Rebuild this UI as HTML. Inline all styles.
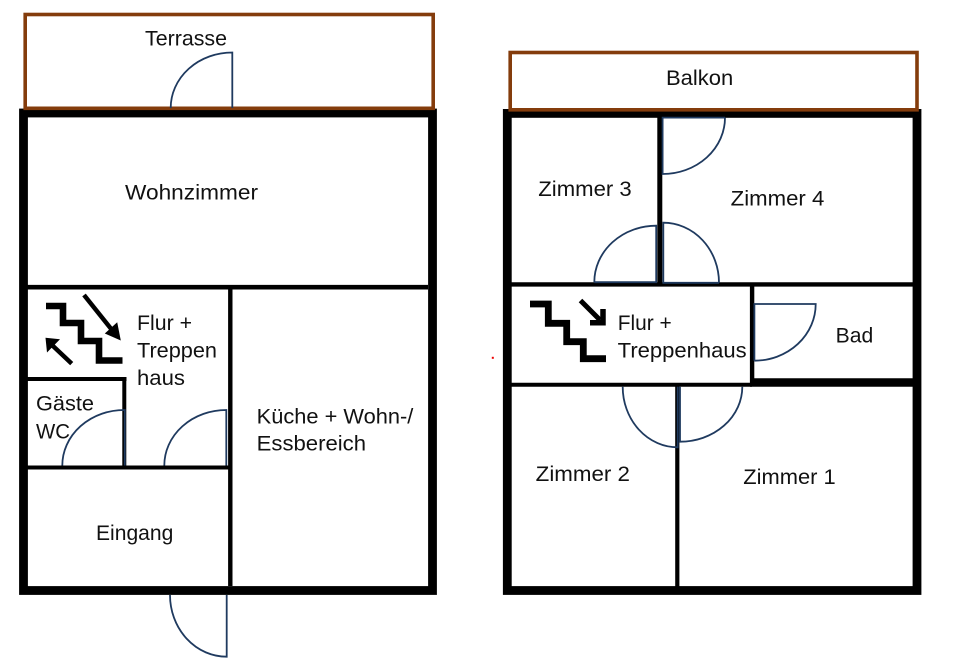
<!DOCTYPE html>
<html>
<head>
<meta charset="utf-8">
<style>
  html,body{margin:0;padding:0;background:#fff;}
  svg{display:block;}
  text{font-family:"Liberation Sans",Arial,sans-serif;font-size:21px;fill:#111;}
</style>
</head>
<body>
<svg width="960" height="667" viewBox="0 0 960 667" xmlns="http://www.w3.org/2000/svg">
  <rect x="0" y="0" width="960" height="667" fill="#fff"/>

  <!-- ===== LEFT PLAN ===== -->
  <!-- outer walls -->
  <rect x="23.5" y="113" width="409" height="477.5" fill="none" stroke="#000" stroke-width="8.8"/>
  <!-- Terrasse -->
  <rect x="25.2" y="14.5" width="408" height="93.8" fill="none" stroke="#843c0c" stroke-width="3.6"/>

  <!-- inner walls -->
  <line x1="27" y1="287.2" x2="428" y2="287.2" stroke="#000" stroke-width="4.6"/>
  <line x1="230.3" y1="287" x2="230.3" y2="586" stroke="#000" stroke-width="4.4"/>
  <line x1="27" y1="379" x2="126.5" y2="379" stroke="#000" stroke-width="4"/>
  <line x1="124.3" y1="377" x2="124.3" y2="467" stroke="#000" stroke-width="4"/>
  <line x1="27" y1="467.5" x2="232" y2="467.5" stroke="#000" stroke-width="4"/>

  <!-- doors left -->
  <g fill="none" stroke="#1f3a5f" stroke-width="1.8">
    <path d="M232.3,108 L232.3,52.5 A61.6,55.5 0 0 0 170.7,108"/>
    <path d="M124.8,465.5 L124.8,410 A62,55.5 0 0 0 62.3,465.5"/>
    <path d="M226.3,465.5 L226.3,410 A62,55.5 0 0 0 164.3,465.5"/>
    <path d="M226.7,595 L226.7,656.7 A56.7,61.7 0 0 1 170,595"/>
  </g>

  <!-- stairs left -->
  <polyline points="46,306 63,306 63,323 81,323 81,341 99,341 99,360.5 122.5,360.5"
            fill="none" stroke="#000" stroke-width="6.6" stroke-linejoin="miter"/>
  <line x1="84" y1="295" x2="112" y2="330" stroke="#000" stroke-width="4.5"/>
  <polygon points="120.8,340.5 104.8,333.5 117.2,322.2" fill="#000"/>
  <line x1="53" y1="346" x2="71.7" y2="363.6" stroke="#000" stroke-width="4.5"/>
  <polygon points="45.5,337.8 60,339.3 47,352.5" fill="#000"/>

  <!-- left labels -->
  <text x="145" y="45.5" textLength="82" lengthAdjust="spacingAndGlyphs">Terrasse</text>
  <text x="125" y="199.5" textLength="133" lengthAdjust="spacingAndGlyphs">Wohnzimmer</text>
  <text x="137" y="330" textLength="55" lengthAdjust="spacingAndGlyphs">Flur +</text>
  <text x="137" y="357.3" textLength="80" lengthAdjust="spacingAndGlyphs">Treppen</text>
  <text x="137" y="385" textLength="48" lengthAdjust="spacingAndGlyphs">haus</text>
  <text x="36" y="410.7" textLength="58" lengthAdjust="spacingAndGlyphs">Gäste</text>
  <text x="36" y="438.3" textLength="34" lengthAdjust="spacingAndGlyphs">WC</text>
  <text x="256.7" y="423.3" textLength="156.6" lengthAdjust="spacingAndGlyphs">Küche + Wohn-/</text>
  <text x="256.7" y="450.7" textLength="109.3" lengthAdjust="spacingAndGlyphs">Essbereich</text>
  <text x="96" y="540" textLength="77.3" lengthAdjust="spacingAndGlyphs">Eingang</text>

  <!-- ===== RIGHT PLAN ===== -->
  <rect x="507.3" y="113.4" width="409.7" height="477.1" fill="none" stroke="#000" stroke-width="8.8"/>
  <!-- Balkon -->
  <rect x="510.2" y="52.5" width="406.8" height="57.3" fill="none" stroke="#843c0c" stroke-width="3.6"/>

  <!-- inner walls -->
  <line x1="659.8" y1="116" x2="659.8" y2="284" stroke="#000" stroke-width="5"/>
  <line x1="511" y1="284.4" x2="913" y2="284.4" stroke="#000" stroke-width="4.4"/>
  <line x1="752.1" y1="284" x2="752.1" y2="386" stroke="#000" stroke-width="4.4"/>
  <line x1="511" y1="384.7" x2="752" y2="384.7" stroke="#000" stroke-width="4"/>
  <line x1="750" y1="382.5" x2="913" y2="382.5" stroke="#000" stroke-width="8.4"/>
  <line x1="677.3" y1="384" x2="677.3" y2="587" stroke="#000" stroke-width="4.2"/>

  <!-- doors right -->
  <g fill="none" stroke="#1f3a5f" stroke-width="1.8">
    <path d="M725,117.6 L662.6,117.6 L662.6,174 A62.4,56.4 0 0 0 725,117.6"/>
    <path d="M594.3,282.2 L656.2,282.2 L656.2,225.7 A61.9,56.5 0 0 0 594.3,282.2"/>
    <path d="M719,282.8 L663.3,282.8 L663.3,222.7 A55.7,60.1 0 0 1 719,282.8"/>
    <path d="M754.4,360.7 L754.4,304 L815.7,304 A61.3,56.7 0 0 1 754.4,360.7"/>
    <path d="M622.7,386.7 A55,60.6 0 0 0 677.7,447.3 L677.7,386.7"/>
    <path d="M742.3,386.7 A62.3,55 0 0 1 680,441.7 L680,386.7"/>
  </g>

  <!-- stairs right -->
  <polyline points="530,304 548.3,304 548.3,323.3 566.7,323.3 566.7,341.7 583.3,341.7 583.3,358.7 606,358.7"
            fill="none" stroke="#000" stroke-width="6.8" stroke-linejoin="miter"/>
  <line x1="580.5" y1="300.5" x2="600" y2="320" stroke="#000" stroke-width="5"/>
  <polyline points="603,309 603,322.8 590,322.8" fill="none" stroke="#000" stroke-width="5.5" stroke-linejoin="miter"/>

  <!-- right labels -->
  <text x="666" y="85" textLength="67.3" lengthAdjust="spacingAndGlyphs">Balkon</text>
  <text x="538.3" y="196" textLength="93.4" lengthAdjust="spacingAndGlyphs">Zimmer 3</text>
  <text x="730.7" y="205.7" textLength="93.6" lengthAdjust="spacingAndGlyphs">Zimmer 4</text>
  <text x="617.7" y="330" textLength="54" lengthAdjust="spacingAndGlyphs">Flur +</text>
  <text x="617.7" y="357.3" textLength="129" lengthAdjust="spacingAndGlyphs">Treppenhaus</text>
  <text x="835.7" y="342.7" textLength="37.6" lengthAdjust="spacingAndGlyphs">Bad</text>
  <text x="535.7" y="481" textLength="94.3" lengthAdjust="spacingAndGlyphs">Zimmer 2</text>
  <text x="743.3" y="484" textLength="92.4" lengthAdjust="spacingAndGlyphs">Zimmer 1</text>

  <!-- stray red dot -->
  <rect x="491.8" y="356.8" width="2" height="2" fill="#e00"/>
</svg>
</body>
</html>
